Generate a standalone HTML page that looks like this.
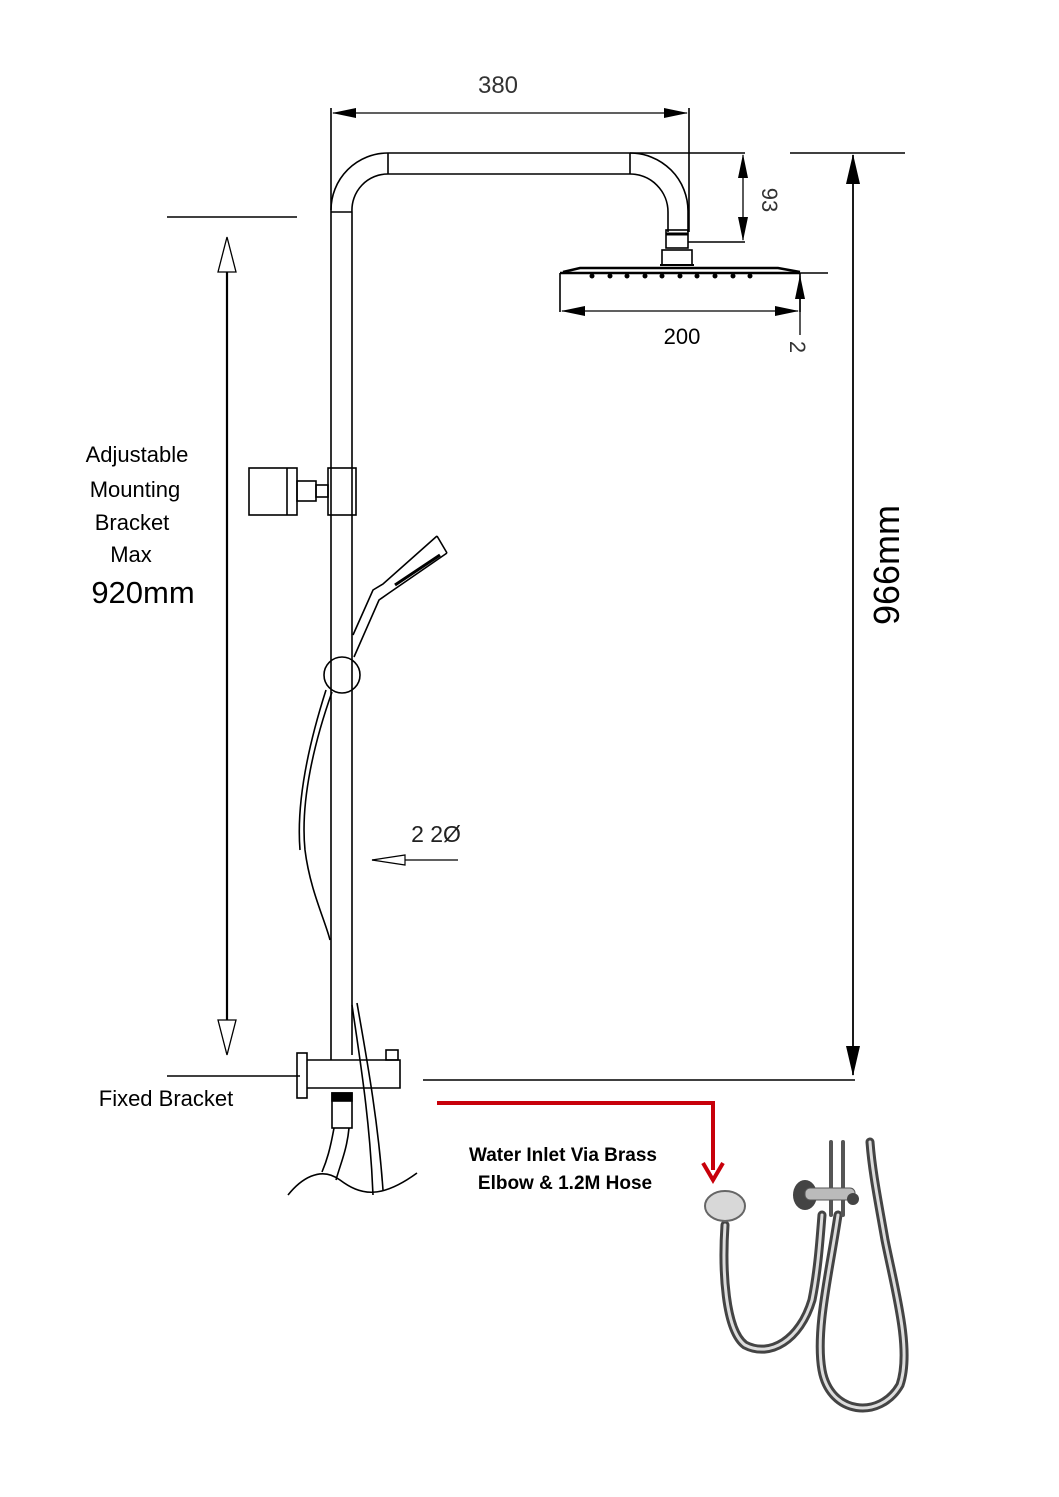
<!DOCTYPE html>
<html><head><meta charset="utf-8"><style>
html,body{margin:0;padding:0;background:#fff;}
svg{display:block;}
text{font-family:"Liberation Sans",sans-serif;}
</style></head><body>
<svg width="1059" height="1497" viewBox="0 0 1059 1497" xmlns="http://www.w3.org/2000/svg">
<defs>
<marker id="fa" markerWidth="24" markerHeight="12" refX="23" refY="6" orient="auto-start-reverse" markerUnits="userSpaceOnUse"><path d="M0,1 L24,6 L0,11 Z" fill="#000"/></marker>
<marker id="fb" markerWidth="30" markerHeight="14" refX="29" refY="7" orient="auto-start-reverse" markerUnits="userSpaceOnUse"><path d="M0,0 L30,7 L0,14 Z" fill="#000"/></marker>
</defs>
<g fill="none" stroke="#000" stroke-width="1.6">
<path d="M331,1060 V210 A57,57 0 0 1 388,153 H630 A58,58 0 0 1 688,211 V232"/>
<path d="M352,1055 V212 A36,36 0 0 1 388,174 H630 A38,38 0 0 1 668,212 V232"/>
<path d="M331,212 H352 M388,153 V174 M630,153 V174"/>
<rect x="666" y="230" width="22" height="18"/>
<path d="M666,234 H688" stroke-width="3"/>
<rect x="662" y="250" width="30" height="15"/>
<path d="M660,265 H694" stroke-width="2"/>
<path d="M563,272 L580,268 H778 L800,272" stroke-width="2.5"/>
<path d="M560,273 H800" stroke-width="2.5"/>
<g fill="#000" stroke="none">
<circle cx="592" cy="276" r="2.5"/><circle cx="610" cy="276" r="2.5"/><circle cx="627" cy="276" r="2.5"/><circle cx="645" cy="276" r="2.5"/><circle cx="662" cy="276" r="2.5"/><circle cx="680" cy="276" r="2.5"/><circle cx="697" cy="276" r="2.5"/><circle cx="715" cy="276" r="2.5"/><circle cx="733" cy="276" r="2.5"/><circle cx="750" cy="276" r="2.5"/>
</g>
<path d="M560,273 V312 M800,273 V312"/>
<path d="M331,108 V210 M689,108 V232"/>
<line x1="333" y1="113" x2="687" y2="113" marker-start="url(#fa)" marker-end="url(#fa)" stroke-width="1.3"/>
<path d="M630,153 H745 M688,242 H745"/>
<line x1="743" y1="155" x2="743" y2="240" marker-start="url(#fa)" marker-end="url(#fa)" stroke-width="1.3"/>
<line x1="562" y1="311" x2="798" y2="311" marker-start="url(#fa)" marker-end="url(#fa)" stroke-width="1.3"/>
<path d="M800,273 H828"/>
<line x1="800" y1="335" x2="800" y2="276" marker-end="url(#fa)" stroke-width="1.3"/>
<path d="M790,153 H905 M423,1080 H855"/>
<line x1="853" y1="155" x2="853" y2="1075" marker-start="url(#fb)" marker-end="url(#fb)" stroke-width="1.8"/>
<path d="M167,217 H297 M167,1076 H300"/>
<line x1="227" y1="240" x2="227" y2="1053" stroke-width="2.2"/>
<path d="M218,272 L227,237 L236,272 Z M218,1020 L227,1055 L236,1020 Z" fill="#fff" stroke-width="1.3"/>
<rect x="249" y="468" width="48" height="47"/>
<path d="M287,468 V515"/>
<rect x="297" y="481" width="19" height="20"/>
<rect x="316" y="485" width="12" height="12"/>
<rect x="328" y="468" width="28" height="47"/>
<circle cx="342" cy="675" r="18"/>
<path d="M353,635 L373,590 L383,584 L437,536 M354,657 L379,600 L389,593 L447,553 M437,536 L447,553"/>
<path d="M395,585 L440,555" stroke-width="3"/>
<path d="M332,692 C315,740 300,800 305,850 C310,890 325,920 330,940"/>
<path d="M326,690 C310,740 296,800 300,850"/>
<path d="M352,1005 C360,1060 370,1120 373,1195 M357,1003 C367,1060 378,1120 383,1190"/>
<line x1="458" y1="860" x2="372" y2="860" stroke-width="1.2"/>
<path d="M372,860 L405,855 L405,865 Z" fill="#fff" stroke-width="1.2"/>
<rect x="297" y="1053" width="10" height="45"/>
<path d="M307,1060 H400 V1088 H307"/>
<rect x="386" y="1050" width="12" height="10"/>
<rect x="332" y="1093" width="20" height="35"/>
<rect x="332" y="1093" width="20" height="8" fill="#000"/>
<path d="M334,1128 C330,1150 327,1160 322,1172 M349,1128 C347,1150 340,1165 336,1180"/>
<path d="M288,1195 C300,1180 320,1165 340,1180 C360,1195 380,1200 417,1173"/>
</g>
<path d="M437,1103 H713 V1170" fill="none" stroke="#c8000a" stroke-width="4"/>
<path d="M703,1163 L713,1180 L723,1163" fill="none" stroke="#c8000a" stroke-width="4"/>
<g fill="none" stroke-linecap="round">
<path d="M725,1225 C722,1270 725,1330 745,1345 C770,1358 800,1340 812,1300 C818,1270 820,1240 822,1215" stroke="#444" stroke-width="9"/>
<path d="M725,1225 C722,1270 725,1330 745,1345 C770,1358 800,1340 812,1300 C818,1270 820,1240 822,1215" stroke="#ddd" stroke-width="3"/>
<path d="M838,1215 C830,1270 815,1330 822,1370 C830,1415 880,1420 900,1385 C912,1350 895,1290 885,1240 C878,1200 872,1170 870,1142" stroke="#444" stroke-width="9"/>
<path d="M838,1215 C830,1270 815,1330 822,1370 C830,1415 880,1420 900,1385 C912,1350 895,1290 885,1240 C878,1200 872,1170 870,1142" stroke="#ddd" stroke-width="3"/>
<path d="M831,1142 V1215 M843,1142 V1215" stroke="#555" stroke-width="4"/>
</g>
<ellipse cx="725" cy="1206" rx="20" ry="15" fill="#d8d8d8" stroke="#666" stroke-width="2"/>
<ellipse cx="805" cy="1195" rx="12" ry="15" fill="#444"/>
<rect x="805" y="1188" width="50" height="12" rx="5" fill="#bbb" stroke="#555"/>
<circle cx="853" cy="1199" r="6" fill="#444"/>
<g fill="#000">
<text x="498" y="93" font-size="24" text-anchor="middle" fill="#333">380</text>
<text x="682" y="344" font-size="22" text-anchor="middle">200</text>
<text transform="translate(762,200) rotate(90)" font-size="22" text-anchor="middle" fill="#333">93</text>
<text transform="translate(790,347) rotate(90)" font-size="22" text-anchor="middle" fill="#333">2</text>
<text transform="translate(899,565) rotate(-90)" font-size="36" text-anchor="middle">966mm</text>
<text x="137" y="462" font-size="22" text-anchor="middle">Adjustable</text>
<text x="135" y="497" font-size="22" text-anchor="middle">Mounting</text>
<text x="132" y="530" font-size="22" text-anchor="middle">Bracket</text>
<text x="131" y="562" font-size="22" text-anchor="middle">Max</text>
<text x="143" y="603" font-size="31" text-anchor="middle">920mm</text>
<text x="436" y="842" font-size="23" text-anchor="middle" fill="#222">2 2Ø</text>
<text x="166" y="1106" font-size="22" text-anchor="middle">Fixed Bracket</text>
<text x="563" y="1161" font-size="19" font-weight="bold" text-anchor="middle">Water Inlet Via Brass</text>
<text x="565" y="1189" font-size="19" font-weight="bold" text-anchor="middle">Elbow &amp; 1.2M Hose</text>
</g>
</svg>
</body></html>
